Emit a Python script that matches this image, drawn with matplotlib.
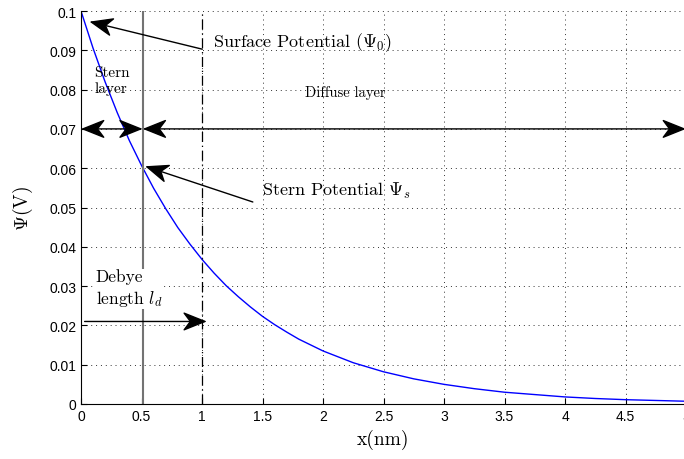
import matplotlib
matplotlib.use('Agg')
import matplotlib.pyplot as plt
from matplotlib.patches import ArrowStyle
from matplotlib.path import Path

plt.rcParams['mathtext.fontset'] = 'cm'

# potential profile
x_nm = [0, 0.1, 0.2, 0.3, 0.4, 0.5, 0.6, 0.7, 0.8, 0.9, 1.0,
        1.1, 1.2, 1.3, 1.4, 1.5, 1.6, 1.7, 1.8, 1.9, 2.0,
        2.25, 2.5, 2.75, 3.0, 3.25, 3.5, 3.75, 4.0, 4.25, 4.5, 4.75, 5.0]
psi = [0.1, 0.0905, 0.0819, 0.0741, 0.067, 0.0607, 0.0549, 0.0497, 0.0449, 0.0407, 0.0368,
       0.0333, 0.0301, 0.0273, 0.0247, 0.0223, 0.0202, 0.0183, 0.0165, 0.015, 0.0135,
       0.0105, 0.0082, 0.0064, 0.005, 0.0039, 0.003, 0.0024, 0.0018, 0.0014, 0.0011, 0.0009, 0.0007]

x_ticks = [0, 0.5, 1, 1.5, 2, 2.5, 3, 3.5, 4, 4.5, 5]
x_labels = ['0', '0.5', '1', '1.5', '2', '2.5', '3', '3.5', '4', '4.5', '5']
y_ticks = [0, 0.01, 0.02, 0.03, 0.04, 0.05, 0.06, 0.07, 0.08, 0.09, 0.1]
y_labels = ['0', '0.01', '0.02', '0.03', '0.04', '0.05', '0.06', '0.07', '0.08', '0.09', '0.1']

stern_x = 0.51
debye_x = 1.0


# matlab-like arrow heads with a notched back
class VBack:
    def _get_arrow_wedge(self, *args):
        verts, codes, ddx, ddy = super()._get_arrow_wedge(*args)
        (ax_, ay_), (tx, ty), (bx, by) = verts
        mx, my = (ax_ + bx) / 2, (ay_ + by) / 2
        verts = list(verts) + [(tx + 0.7 * (mx - tx), ty + 0.7 * (my - ty))]
        codes = list(codes) + [Path.LINETO]
        return verts, codes, ddx, ddy


class VBackB(VBack, ArrowStyle.CurveFilledB):
    pass


class VBackAB(VBack, ArrowStyle.CurveFilledAB):
    pass


fig = plt.figure(figsize=(6.84, 4.6), dpi=100)
ax = fig.add_axes([81 / 684, 1 - 405 / 460, 605 / 684, 393 / 460])

ax.plot(x_nm, psi, color='blue', lw=1)
ax.axvline(stern_x, color='0.45', lw=1.5)
ax.axvline(debye_x, color='black', lw=0.9, ls='-.', dashes=(8, 3, 1, 3))

ax.set_xlim(0, 5)
ax.set_ylim(0, 0.1)
ax.set_xticks(x_ticks)
ax.set_xticklabels(x_labels)
ax.set_yticks(y_ticks)
ax.set_yticklabels(y_labels)
for lab in ax.get_xticklabels() + ax.get_yticklabels():
    lab.set_family('Liberation Sans')
    lab.set_fontsize(10)
ax.tick_params(direction='in', length=4, width=0.8)
ax.grid(True, ls=(0, (1, 4)), color='0.2', lw=0.7)
ax.spines['top'].set_visible(False)
ax.spines['right'].set_visible(False)

ax.set_xlabel('x(nm)', family='cmr10', fontsize=14, labelpad=4)
ax.set_ylabel(r'$\Psi$(V)', family='cmr10', fontsize=14, labelpad=10)


def head():
    return dict(arrowstyle=VBackB(head_length=1.5, head_width=0.6), color='black',
                lw=1, mutation_scale=10, shrinkA=0, shrinkB=0)


def dbl():
    return dict(arrowstyle=VBackAB(head_length=1.5, head_width=0.6), color='black',
                lw=1, mutation_scale=10, shrinkA=0, shrinkB=0)


# surface potential
ax.annotate('', xy=(0.07, 0.0973), xytext=(1.0, 0.0903), arrowprops=head())
ax.text(1.09, 0.0921, r'Surface Potential ($\Psi_0$)', family='cmr10', fontsize=13, va='center')

# stern potential
ax.annotate('', xy=(0.53, 0.0605), xytext=(1.42, 0.0514), arrowprops=head())
ax.text(1.5, 0.0545, r'Stern Potential $\Psi_s$', family='cmr10', fontsize=13, va='center')

# layers
ax.annotate('', xy=(0, 0.07), xytext=(stern_x, 0.07), arrowprops=dbl())
ax.annotate('', xy=(stern_x, 0.07), xytext=(5, 0.07), arrowprops=dbl())
ax.text(0.11, 0.0824, 'Stern\nlayer', family='cmr10', fontsize=11, va='center', linespacing=1.2)
ax.text(1.85, 0.0794, 'Diffuse layer', family='cmr10', fontsize=10.5, va='center')

# debye length
ax.annotate('', xy=(1.04, 0.021), xytext=(0.03, 0.021), arrowprops=head())
ax.text(0.12, 0.0295, 'Debye\nlength $l_d$', family='cmr10', fontsize=12.5, va='center',
        linespacing=1.25, bbox=dict(fc='white', ec='none', pad=1))

fig.savefig('out.png', dpi=100)
